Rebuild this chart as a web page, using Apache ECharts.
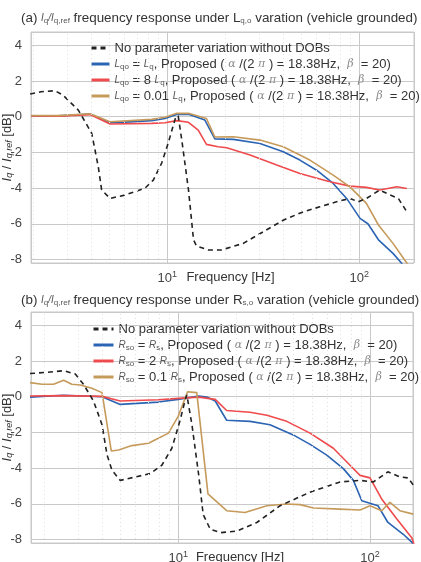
<!DOCTYPE html>
<html>
<head>
<meta charset="utf-8">
<script src="https://cdn.jsdelivr.net/npm/echarts@6/dist/echarts.min.js"></script>
<style>
  html, body { margin: 0; padding: 0; background: #fff; }
  #chart { width: 421px; height: 562px; }
</style>
</head>
<body>
<div id="chart"></div>
<script>
// (a) Lq,o variation — [frequency Hz, dB]
var aNoDob = [[1.93, 1.27], [2.2, 1.4], [2.6, 1.46], [2.87, 1.2], [3.44, 0.37], [4.04, -0.93], [4.37, -2.8], [4.55, -4.1], [5.03, -4.58], [6.03, -4.39], [7.66, -4.0], [8.46, -3.55], [9.35, -2.6], [10.1, -1.5], [10.7, -0.56], [11.1, 0.02], [11.4, 0.05], [11.9, -1.3], [12.9, -4.1], [13.7, -6.9], [14.2, -7.25], [16.4, -7.47], [19.2, -7.47], [20.4, -7.38], [24.9, -7.1], [31.6, -6.45], [40.2, -5.8], [51.1, -5.33], [62.4, -5.05], [76.2, -4.77], [89.5, -4.58], [98.9, -4.77], [109, -4.58], [128, -4.11], [145, -4.39], [160, -4.58], [177, -5.33]]
var aBlue = [[1.95, 0.05], [2.7, 0.05], [3.96, 0.15], [5.03, -0.34], [6.03, -0.3], [8.3, -0.22], [9.73, -0.1], [11.2, 0.13], [12.9, 0.14], [15.7, -0.19], [17.7, -1.24], [22.1, -1.27], [30.4, -1.5], [40.2, -1.96], [49.1, -2.43], [60, -3.0], [73.2, -3.74], [86, -4.58], [101, -5.7], [111, -6.0], [126, -6.9], [150, -7.66], [166, -8.2], [172, -8.5]]
var aRed = [[1.95, 0.05], [2.7, 0.03], [3.96, 0.12], [5.03, -0.41], [8.3, -0.37], [9.73, -0.34], [11.2, -0.22], [12.9, -0.31], [14.5, -0.75], [16.0, -1.55], [18.4, -1.68], [20.4, -1.74], [27, -2.15], [37.2, -2.71], [49.1, -3.18], [70.3, -3.64], [89.5, -3.89], [109, -3.96], [128, -4.11], [157, -3.93], [177, -4.02]]
var aGold = [[1.95, 0.07], [2.7, 0.06], [3.96, 0.17], [5.03, -0.28], [8.3, -0.15], [9.73, -0.03], [11.2, 0.19], [12.9, 0.19], [16.0, -0.1], [17.7, -1.14], [22.1, -1.12], [30.4, -1.31], [40.2, -1.68], [55.3, -2.43], [73.2, -3.27], [89.5, -3.93], [109, -4.86], [126, -6.07], [150, -7.1], [177, -8.2], [182, -8.5]]

// (b) Rs,o variation
var bNoDob = [[1.69, 1.3], [2.03, 1.36], [2.53, 1.46], [2.91, 1.27], [3.21, 0.7], [3.62, -0.24], [4.01, -1.57], [4.26, -3.27], [4.52, -4.12], [4.99, -4.69], [5.97, -4.5], [7.14, -4.31], [8.22, -3.84], [9.27, -2.89], [10.2, -1.38], [10.9, -0.15], [11.1, 0.1], [11.8, -1.57], [12.8, -4.4], [13.5, -6.6], [14.7, -7.43], [16.6, -7.62], [20.2, -7.53], [25.7, -7.05], [34.0, -6.11], [48.7, -5.35], [69.8, -4.78], [88.7, -4.69], [104, -4.78], [124, -4.21], [143, -4.5], [158, -4.55], [171, -5.07]]
var bBlue = [[1.69, -0.02], [2.53, 0.08], [4.01, 0.0], [4.99, -0.43], [7.89, -0.3], [10.0, -0.15], [12.8, 0.04], [14.1, -0.02], [15.6, -0.24], [17.9, -1.32], [23.7, -1.38], [30.1, -1.57], [39.8, -2.14], [48.7, -2.67], [59.5, -3.27], [72.6, -4.03], [81.9, -4.69], [90.6, -5.83], [110, -6.11], [124, -7.05], [149, -7.71], [165, -8.15], [170, -8.4]]
var bRed = [[1.69, 0.04], [2.53, 0.06], [4.01, 0.02], [4.99, -0.24], [7.89, -0.17], [10.5, -0.08], [12.8, -0.02], [15.6, -0.15], [17.9, -0.77], [23.7, -0.87], [29.0, -1.04], [36.8, -1.38], [48.7, -2.04], [64.4, -2.89], [78.7, -3.84], [88.7, -4.41], [100, -4.55], [115, -5.73], [138, -6.86], [165, -7.9], [170, -8.3]]
var bGold = [[1.69, 0.79], [1.95, 0.7], [2.24, 0.7], [2.53, 0.92], [2.79, 0.7], [3.09, 0.66], [3.55, 0.47], [4.01, 0.23], [4.48, -3.04], [4.89, -2.99], [5.74, -2.74], [7.0, -2.61], [7.89, -2.33], [8.9, -2.04], [10.0, -1.1], [11.2, 0.28], [12.5, 0.23], [14.3, -5.45], [17.9, -6.39], [22.3, -6.49], [29.0, -6.11], [36.8, -6.01], [43.2, -6.05], [50.7, -6.24], [69.8, -6.3], [88.7, -6.35], [100, -6.11], [115, -6.39], [127, -5.92], [143, -6.39], [168, -6.58]]

var minorFreqs = [2, 3, 4, 5, 6, 7, 8, 9, 20, 30, 40, 50, 60, 70, 80, 90]

var legendText = {
  a0: 'No parameter variation without DOBs',
  a1: '{it|L}{sb|qo} = {it|L}{sb|q}, Proposed ( {g|α} /(2 {g|π} ) = 18.38Hz,  {g|β}  = 20)',
  a2: '{it|L}{sb|qo} = 8 {it|L}{sb|q}, Proposed ( {g|α} /(2 {g|π} ) = 18.38Hz,  {g|β}  = 20)',
  a3: '{it|L}{sb|qo} = 0.01 {it|L}{sb|q}, Proposed ( {g|α} /(2 {g|π} ) = 18.38Hz,  {g|β}  = 20)',
  b0: 'No parameter variation without DOBs',
  b1: '{it|R}{sb|so} = {it|R}{sb|s}, Proposed ( {g|α} /(2 {g|π} ) = 18.38Hz,  {g|β}  = 20)',
  b2: '{it|R}{sb|so} = 2 {it|R}{sb|s}, Proposed ( {g|α} /(2 {g|π} ) = 18.38Hz,  {g|β}  = 20)',
  b3: '{it|R}{sb|so} = 0.1 {it|R}{sb|s}, Proposed ( {g|α} /(2 {g|π} ) = 18.38Hz,  {g|β}  = 20)'
}

var FONT = '"Liberation Sans", Arial, sans-serif'
var BLUE = '#2b64b3'
var RED = '#ef4a4c'
var GOLD = '#c69a5b'

var richBase = {
  it: { fontStyle: 'italic', fontSize: 10, color: '#555', fontFamily: FONT },
  sb: { fontSize: 8, color: '#555', verticalAlign: 'bottom', padding: [4, 0, 0, 0], fontFamily: FONT },
  g: { fontStyle: 'italic', fontFamily: '"DejaVu Serif", serif', fontSize: 11, color: '#8a8a8a' },
  s: { fontSize: 9, padding: [0, 0, 8, 0], fontFamily: FONT, color: '#444' },
  n: { fontSize: 13, fontFamily: FONT, color: '#333' }
}

function xAxisCfg (idx, min, max, pad) {
  return {
    type: 'log',
    gridIndex: idx,
    min: min,
    max: max,
    logBase: 10,
    name: 'Frequency [Hz]',
    nameLocation: 'middle',
    nameGap: 8,
    nameMoveOverlap: false,
    nameTextStyle: { fontSize: 13, color: '#333', fontFamily: FONT, padding: [0, 0, 0, pad] },
    axisLine: { show: false },
    axisTick: { show: false },
    splitLine: { show: true, lineStyle: { color: '#c9c9c9', width: 1 } },
    axisLabel: {
      margin: 7,
      showMinLabel: false,
      showMaxLabel: false,
      fontSize: 13,
      color: '#444',
      fontFamily: FONT,
      formatter: function (v) {
        var e = Math.round(Math.log10(v) * 1000) / 1000
        if (e === 1) return '10{s|1}'
        if (e === 2) return '10{s|2}'
        return ''
      },
      rich: richBase
    }
  }
}

function yAxisCfg (idx) {
  return {
    type: 'value',
    gridIndex: idx,
    min: -8.2,
    max: 4.75,
    splitNumber: 6,
    name: '{i|I}{q|q}{n| / }{i|I}{q|q,ref}{n| [dB]}',
    nameLocation: 'middle',
    nameGap: 17,
    nameRotate: 90,
    nameMoveOverlap: false,
    nameTextStyle: {
      rich: {
        i: { fontStyle: 'italic', fontSize: 13, color: '#333', fontFamily: FONT },
        q: { fontStyle: 'italic', fontSize: 9, color: '#333', fontFamily: FONT, verticalAlign: 'bottom', padding: [4, 0, 0, 0] },
        n: { fontSize: 13, color: '#333', fontFamily: FONT }
      }
    },
    axisLine: { show: false },
    axisTick: { show: false },
    axisLabel: { showMinLabel: false, showMaxLabel: false, fontSize: 13, color: '#444', fontFamily: FONT, margin: 9 },
    splitLine: { show: true, lineStyle: { color: '#c9c9c9', width: 1 } }
  }
}

function lineSeries (name, idx, data, color, dashed) {
  return {
    name: name,
    type: 'line',
    xAxisIndex: idx,
    yAxisIndex: idx,
    data: data,
    showSymbol: false,
    symbol: 'none',
    clip: true,
    z: dashed ? 4 : 3,
    lineStyle: { color: color, width: 1.6, type: dashed ? [5, 4] : 'solid' },
    itemStyle: { color: color }
  }
}

function minorGrid (idx) {
  return {
    name: 'minor' + idx,
    type: 'line',
    xAxisIndex: idx,
    yAxisIndex: idx,
    data: [],
    silent: true,
    z: 1,
    markLine: {
      silent: true,
      symbol: ['none', 'none'],
      label: { show: false },
      lineStyle: { color: '#e0e0e0', type: [1, 3], width: 1 },
      data: minorFreqs.map(function (f) { return { xAxis: f } })
    }
  }
}

function legendCfg (left, top, names, w) {
  return {
    orient: 'vertical',
    left: left,
    top: top,
    data: names,
    itemWidth: w,
    itemHeight: 12,
    itemGap: 2,
    itemTextGap: 3,
    padding: 0,
    itemStyle: { opacity: 0 },
    lineStyle: { width: 3 },
    textStyle: { fontSize: 13, color: '#333', fontFamily: FONT, lineHeight: 14, rich: richBase },
    formatter: function (name) { return legendText[name] }
  }
}

var chart = echarts.init(document.getElementById('chart'), null, { renderer: 'canvas' })
chart.setOption({
  backgroundColor: '#fff',
  animation: false,
  title: [
    {
      text: '(a) {it|I}{sb|q}{it|/I}{sb|q,ref} frequency response under L{sb|q,o} varation (vehicle grounded)',
      left: 21,
      top: 12,
      padding: 0,
      textStyle: { fontSize: 13.4, fontWeight: 'normal', color: '#333', fontFamily: FONT, rich: richBase }
    },
    {
      text: '(b) {it|I}{sb|q}{it|/I}{sb|q,ref} frequency response under R{sb|s,o} varation (vehicle grounded)',
      left: 21,
      top: 294,
      padding: 0,
      textStyle: { fontSize: 13.4, fontWeight: 'normal', color: '#333', fontFamily: FONT, rich: richBase }
    }
  ],
  legend: [
    legendCfg(90, 41, ['a0', 'a1', 'a2', 'a3'], 18),
    legendCfg(92, 322, ['b0', 'b1', 'b2', 'b3'], 20)
  ],
  grid: [
    { left: 31, top: 32, width: 383, height: 231, show: true, borderColor: '#c9c9c9', borderWidth: 1, outerBoundsMode: 'none' },
    { left: 31, top: 312, width: 382, height: 231, show: true, borderColor: '#c9c9c9', borderWidth: 1, outerBoundsMode: 'none' }
  ],
  xAxis: [xAxisCfg(0, 1.95, 193, 16), xAxisCfg(1, 1.71, 167.5, 36)],
  yAxis: [yAxisCfg(0), yAxisCfg(1)],
  series: [
    minorGrid(0),
    minorGrid(1),
    lineSeries('a1', 0, aBlue, BLUE, false),
    lineSeries('a2', 0, aRed, RED, false),
    lineSeries('a3', 0, aGold, GOLD, false),
    lineSeries('a0', 0, aNoDob, '#222', true),
    lineSeries('b1', 1, bBlue, BLUE, false),
    lineSeries('b2', 1, bRed, RED, false),
    lineSeries('b3', 1, bGold, GOLD, false),
    lineSeries('b0', 1, bNoDob, '#222', true)
  ]
})
</script>
</body>
</html>
